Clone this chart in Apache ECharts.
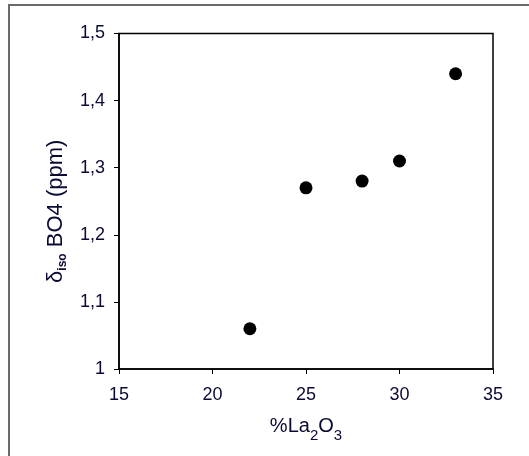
<!DOCTYPE html>
<html>
<head>
<meta charset="utf-8">
<script src="https://cdn.jsdelivr.net/npm/echarts@6/dist/echarts.min.js"></script>
<style>
html,body{margin:0;padding:0;background:#fff;}
#chart{width:529px;height:456px;}
</style>
</head>
<body>
<div id="chart"></div>
<script>
// Data
var xValues = [22, 25, 28, 30, 33];
var yValues = [1.06, 1.27, 1.28, 1.31, 1.44];
var xTicks = [15, 20, 25, 30, 35];
var yTicks = [1, 1.1, 1.2, 1.3, 1.4, 1.5];

var points = xValues.map(function (x, i) { return [x, yValues[i]]; });

var labelColor = '#0a0a35';
var font = 'Liberation Sans, Arial, sans-serif';

var chart = echarts.init(document.getElementById('chart'), null, {renderer: 'canvas'});
chart.setOption({
  animation: false,
  backgroundColor: '#ffffff',
  graphic: [{
    type: 'rect',
    shape: {x: 9, y: 5, width: 560, height: 480},
    style: {fill: 'none', stroke: '#6a6a6a', lineWidth: 2},
    silent: true, z: -10
  }],
  grid: {
    left: 119, right: 36, top: 33.5, bottom: 87,
    show: true, borderColor: '#000', borderWidth: 1.5, backgroundColor: 'transparent'
  },
  xAxis: {
    type: 'value',
    min: xTicks[0], max: xTicks[xTicks.length - 1], interval: 5,
    axisLine: {show: true, onZero: false, lineStyle: {color: '#000', width: 1.5}},
    axisTick: {show: true, inside: false, length: 5, lineStyle: {color: '#000', width: 1}},
    splitLine: {show: false},
    axisLabel: {color: labelColor, fontFamily: font, fontSize: 18, margin: 17},
    name: '{m|%La}{s|2}{m|O}{s|3}',
    nameLocation: 'middle',
    nameGap: 47,
    nameTextStyle: {
      rich: {
        m: {fontFamily: font, fontSize: 20, color: labelColor, lineHeight: 22, verticalAlign: 'top'},
        s: {fontFamily: font, fontSize: 15, color: labelColor, lineHeight: 22, verticalAlign: 'top', padding: [12, 0, 0, 0]}
      }
    }
  },
  yAxis: {
    type: 'value',
    min: yTicks[0], max: yTicks[yTicks.length - 1], interval: 0.1,
    axisLine: {show: true, onZero: false, lineStyle: {color: '#000', width: 1.5}},
    axisTick: {show: true, inside: false, length: 5, lineStyle: {color: '#000', width: 1}},
    splitLine: {show: false},
    axisLabel: {
      color: labelColor, fontFamily: font, fontSize: 18, margin: 14,
      padding: [0, 0, 6, 0],
      formatter: function (v) { return (Math.round(v * 10) / 10).toString().replace('.', ','); }
    },
    name: '{m|δ}{s|iso}{m| BO4 (ppm)}',
    nameLocation: 'middle',
    nameGap: 48,
    nameTextStyle: {
      padding: [0, 20, 0, 0],
      rich: {
        m: {fontFamily: font, fontSize: 22, color: labelColor, lineHeight: 24, verticalAlign: 'top'},
        s: {fontFamily: font, fontSize: 12, fontWeight: 'bold', color: labelColor, lineHeight: 24, verticalAlign: 'top', padding: [12, 0, 0, 0]}
      }
    }
  },
  series: [{
    type: 'scatter',
    data: points,
    symbol: 'circle',
    symbolSize: 13,
    itemStyle: {color: '#000', opacity: 1}
  }]
});
</script>
</body>
</html>
